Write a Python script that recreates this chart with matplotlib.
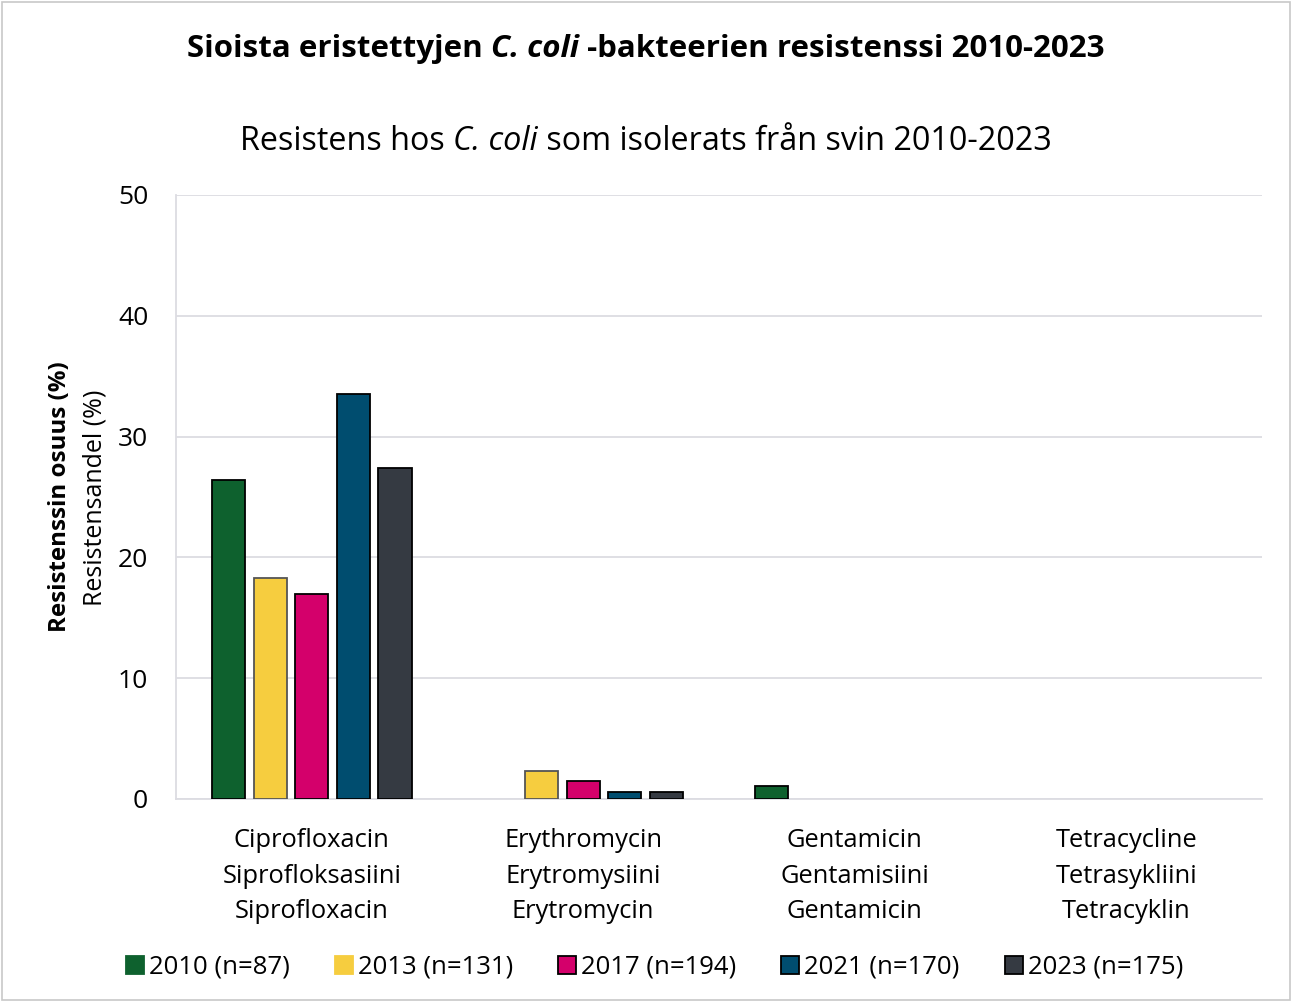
import numpy as np
import matplotlib
matplotlib.use('Agg')
import matplotlib.pyplot as plt
from matplotlib.patches import Rectangle
from matplotlib.lines import Line2D

plt.rcParams['font.family'] = ['Open Sans', 'DejaVu Sans']

categories = ['Ciprofloxacin\nSiprofloksasiini\nSiprofloxacin',
              'Erythromycin\nErytromysiini\nErytromycin',
              'Gentamicin\nGentamisiini\nGentamicin',
              'Tetracycline\nTetrasykliini\nTetracyklin']
series_labels = ['2010 (n=87)', '2013 (n=131)', '2017 (n=194)', '2021 (n=170)', '2023 (n=175)']
v2010 = [26.4, 0.0, 1.1, 0.0]
v2013 = [18.3, 2.3, 0.0, 0.0]
v2017 = [17.0, 1.5, 0.0, 0.0]
v2021 = [33.5, 0.6, 0.0, 0.0]
v2023 = [27.4, 0.6, 0.0, 0.0]
colors = ['#0e612e', '#f6cd3f', '#d4006b', '#004d6f', '#353a42']
edges = ['black', '#555555', 'black', 'black', 'black']


def centered_pieces(fig, y, pieces, size):
    """Draw text pieces side by side, centred on the figure at height y"""
    r = fig.canvas.get_renderer()
    texts = []
    for s, w, st in pieces:
        t = fig.text(0, y, s, fontsize=size, fontweight=w, fontstyle=st, va='center', ha='left')
        texts.append(t)
    widths = [t.get_window_extent(r).width for t in texts]
    fw = fig.get_figwidth() * fig.dpi
    x = (fw - sum(widths)) / 2
    for t, w in zip(texts, widths):
        t.set_x(x / fw)
        x += w


fig = plt.figure(figsize=(12.92, 10.02), dpi=100)
ax = fig.add_axes([176 / 1292, 1 - 799 / 1002, (1262 - 176) / 1292, (799 - 195) / 1002])

x = np.arange(len(categories))
step = 0.153
width = 0.123
data = [v2010, v2013, v2017, v2021, v2023]
for i, vals in enumerate(data):
    lw = [1.3 if v > 0 else 0 for v in vals]
    ax.bar(x + (i - 2) * step, vals, width, color=colors[i], edgecolor=edges[i],
           linewidth=lw, label=series_labels[i], zorder=3)

ax.set_xlim(-0.5, 3.5)
ax.set_ylim(0, 50)
ax.set_yticks(range(0, 51, 10))
ax.yaxis.grid(True, color='#dcdce2', linewidth=1.3, zorder=0)
ax.set_xticks(x)
ax.set_xticklabels(categories, fontsize=18.4, linespacing=1.56)
ax.tick_params(axis='both', length=0)
ax.tick_params(axis='y', pad=20, labelsize=19)
ax.tick_params(axis='x', pad=21)
for s in ['top', 'right']:
    ax.spines[s].set_visible(False)
ax.spines['left'].set_color('#dcdce2')
ax.spines['bottom'].set_color('#dcdce2')
ax.spines['left'].set_linewidth(1.3)
ax.spines['bottom'].set_linewidth(1.3)

fig.text(60 / 1292, 1 - 497 / 1002, 'Resistenssin osuus (%)', rotation=90, fontsize=17.4,
         fontweight='bold', ha='center', va='center')
fig.text(95 / 1292, 1 - 498 / 1002, 'Resistensandel (%)', rotation=90, fontsize=18,
         ha='center', va='center')

centered_pieces(fig, 1 - 49 / 1002, [('Sioista eristettyjen ', 'bold', 'normal'),
                                     ('C. coli', 'bold', 'italic'),
                                     (' -bakteerien resistenssi 2010-2023', 'bold', 'normal')], 22.5)
centered_pieces(fig, 1 - 141 / 1002, [('Resistens hos ', 'normal', 'normal'),
                                      ('C. coli', 'normal', 'italic'),
                                      (' som isolerats från svin 2010-2023', 'normal', 'normal')], 23.3)

handles = [Line2D([], [], marker='s', linestyle='none', markersize=13, markerfacecolor=colors[i],
                  markeredgecolor=(colors[i] if i < 2 else 'black'), markeredgewidth=1.3)
           for i in range(5)]
fig.legend(handles, series_labels, loc='center', bbox_to_anchor=(0.505, 1 - 967 / 1002), ncol=5,
           frameon=False, fontsize=18.5, handletextpad=0.05, columnspacing=1.6, handlelength=1.0)

fig.patches.append(Rectangle((2 / 1292, 2 / 1002), 1 - 4 / 1292, 1 - 4 / 1002, transform=fig.transFigure,
                             fill=False, edgecolor='#c8c8c8', linewidth=1.2))

fig.savefig('out.png', dpi=100)
